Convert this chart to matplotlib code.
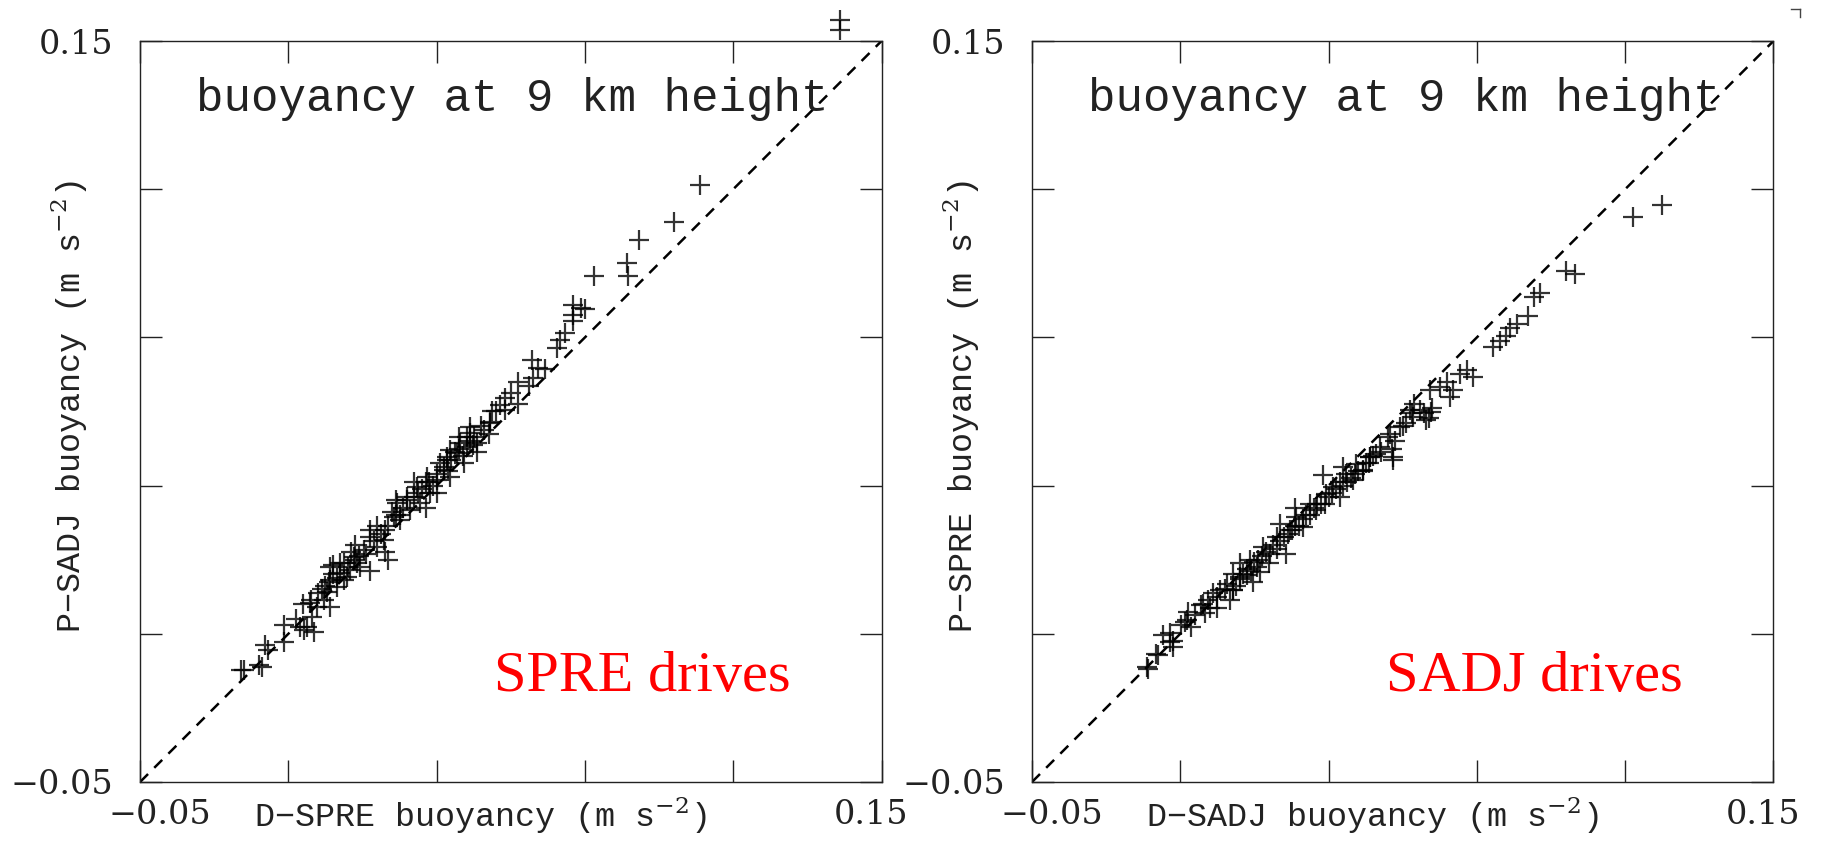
import matplotlib
matplotlib.use("Agg")
import matplotlib.pyplot as plt
import matplotlib.transforms as mtransforms
from matplotlib.lines import Line2D
import numpy as np

plt.rcParams['font.family'] = ['DejaVu Serif']
plt.rcParams['mathtext.fontset'] = 'dejavuserif'

# left panel: D-SPRE (x) vs P-SADJ (y)
spre_x = [-0.0221, -0.0172, -0.0163, -0.0154, -0.0113, -0.0113, -0.0068, -0.0050, -0.0037, -0.0023,
          -0.0041, -0.0005, 0.0013, 0.0004, 0.0031, 0.0049, 0.0013, 0.0040, 0.0067, 0.0013,
          0.0085, -0.0032, -0.0059, -0.0227, -0.0180,
          0.0040, 0.0058, 0.0076, 0.0094, 0.0103, 0.0121, 0.0139, 0.0157, 0.0170, 0.0184,
          0.0193, 0.0202, 0.0220, 0.0229, 0.0247, 0.0256, 0.0274, 0.0283, 0.0301, 0.0319,
          0.0328, 0.0337, 0.0355, 0.0373, 0.0382, 0.0391, 0.0409, 0.0427, 0.0445,
          0.0060, 0.0110, 0.0150, 0.0190, 0.0240, 0.0280, 0.0320, 0.0360, 0.0080, 0.0130,
          0.0170, 0.0210, 0.0260, 0.0300, 0.0340, 0.0400, 0.0010, 0.0030, -0.0010,
          -0.008, -0.006, -0.004, -0.002, 0.000, 0.002, 0.005, 0.007, 0.009, 0.012,
          0.014, 0.016, 0.018, 0.020, 0.022, 0.025, 0.027, 0.029, 0.031, 0.033,
          0.035, 0.037, 0.039, 0.042, 0.044, 0.046, 0.050, 0.052,
          0.008, 0.016, 0.024, 0.030, 0.036, 0.041, 0.012, 0.002, 0.019, 0.027,
          0.045, 0.052, 0.055,
          0.0329, 0.0337, 0.0364, 0.0383, 0.0391, 0.0399, 0.0445, 0.0472, 0.0485, 0.0485,
          0.0561, 0.0558, 0.0574, 0.0593, 0.0625, 0.0634, 0.0647, 0.0669, 0.0688,
          0.0669, 0.0701, 0.0669, 0.0725, 0.0817, 0.0814, 0.0847, 0.0939, 0.1009,
          0.1389, 0.1389]
sadj_y = [-0.0198, -0.0189, -0.0130, -0.0144, -0.0121, -0.0076, -0.0081, -0.0081, -0.0054, -0.0027,
          -0.0018, -0.0009, -0.0027, 0.0014, 0.0027, 0.0045, 0.0045, 0.0063, 0.0072, 0.0081,
          0.0090, -0.0094, -0.0090, -0.0199, -0.0184,
          0.0090, 0.0054, 0.0108, 0.0081, 0.0126, 0.0180, 0.0135, 0.0153, 0.0099, 0.0216,
          0.0252, 0.0207, 0.0270, 0.0234, 0.0297, 0.0252, 0.0324, 0.0279, 0.0315, 0.0342,
          0.0369, 0.0324, 0.0387, 0.0360, 0.0405, 0.0441, 0.0414, 0.0450, 0.0468,
          0.0080, 0.0115, 0.0170, 0.0220, 0.0270, 0.0310, 0.0350, 0.0400, 0.0100, 0.0150,
          0.0190, 0.0240, 0.0290, 0.0330, 0.0370, 0.0430, 0.0040, 0.0050, 0.0020,
          -0.006, -0.002, -0.001, 0.001, 0.003, 0.006, 0.009, 0.012, 0.011, 0.016,
          0.019, 0.018, 0.023, 0.022, 0.026, 0.028, 0.031, 0.030, 0.036, 0.034,
          0.039, 0.038, 0.042, 0.046, 0.044, 0.050, 0.055, 0.052,
          0.014, 0.012, 0.031, 0.028, 0.043, 0.039, 0.007, 0.0085, 0.026, 0.024,
          0.050, 0.058, 0.057,
          0.0377, 0.0396, 0.0415, 0.0431, 0.0458, 0.0410, 0.0472, 0.0518, 0.0504, 0.0536,
          0.0590, 0.0639, 0.0617, 0.0615, 0.0671, 0.0693, 0.0712, 0.0760, 0.0779,
          0.0787, 0.0777, 0.0743, 0.0866, 0.0866, 0.0901, 0.0963, 0.1011, 0.1111,
          0.1557, 0.1530]

# right panel: D-SADJ (x) vs P-SPRE (y)
sadj_x = [-0.0189, -0.0166, -0.0119, -0.0127, -0.0087,
          -0.0186, -0.0159, -0.0146, -0.0119, -0.0128, -0.0097, -0.0083, -0.0070, -0.0043, -0.0025,
          -0.0034, -0.0011, 0.0007, 0.0025, 0.0043, 0.0061, 0.0079, 0.0097, 0.0115, 0.0034,
          0.0043, 0.0061, 0.0043, 0.0088, 0.0106, 0.0124, 0.0142, 0.0160, 0.0169, 0.0186,
          0.0195, 0.0213, 0.0231, 0.0249, 0.0267, 0.0285, 0.0294, 0.0312, 0.0330, 0.0348,
          0.0366, 0.0375, 0.0393, 0.0411, 0.0429, 0.0474,
          0.0080, 0.0120, 0.0170, 0.0210, 0.0250, 0.0300, 0.0340, 0.0380, 0.0100, 0.0150,
          0.0190, 0.0230, 0.0270, 0.0320, 0.0360, 0.0400,
          -0.006, -0.004, -0.002, 0.000, 0.002, 0.005, 0.007, 0.009, 0.011, 0.013,
          0.016, 0.018, 0.020, 0.022, 0.024, 0.026, 0.028, 0.031, 0.033, 0.035,
          0.037, 0.042, 0.044, 0.046, 0.048, 0.050,
          0.006, 0.014, 0.021, 0.029, 0.034, 0.041, 0.047, 0.053, 0.058, 0.062,
          -0.008, 0.000,
          0.0393, 0.0411, 0.0438, 0.0474, 0.0465, 0.0492, 0.0528, 0.0546, 0.0564, 0.0577,
          0.0519, 0.0573, 0.0600, 0.0627, 0.0636, 0.0654, 0.0672, 0.0690, 0.0744, 0.0761,
          0.0779, 0.0509, 0.0524, 0.0556, 0.0571,
          0.0790, 0.0807, 0.0838, 0.0855, 0.0869, 0.0941, 0.0964, 0.1120, 0.1199]
spre_y = [-0.0191, -0.0155, -0.0119, -0.0097, -0.0068,
          -0.0194, -0.0158, -0.0104, -0.0135, -0.0122, -0.0077, -0.0063, -0.0081, -0.0023, -0.0010,
          -0.0045, 0.0009, 0.0018, 0.0035, 0.0018, 0.0049, 0.0058, 0.0040, 0.0067, -0.0010,
          0.0018, 0.0053, 0.0062, 0.0098, 0.0080, 0.0134, 0.0116, 0.0161, 0.0197, 0.0116,
          0.0179, 0.0215, 0.0188, 0.0251, 0.0233, 0.0328, 0.0278, 0.0296, 0.0269, 0.0332,
          0.0314, 0.0359, 0.0341, 0.0377, 0.0386, 0.0377,
          0.0075, 0.0110, 0.0150, 0.0190, 0.0220, 0.0270, 0.0300, 0.0340, 0.0095, 0.0140,
          0.0170, 0.0210, 0.0250, 0.0290, 0.0320, 0.0360,
          -0.005, -0.002, -0.003, 0.000, 0.002, 0.003, 0.006, 0.007, 0.010, 0.012,
          0.013, 0.016, 0.018, 0.019, 0.022, 0.024, 0.025, 0.028, 0.031, 0.031,
          0.033, 0.038, 0.039, 0.043, 0.042, 0.046,
          0.009, 0.009, 0.024, 0.025, 0.035, 0.036, 0.040, 0.052, 0.051, 0.058,
          -0.004, -0.003,
          0.0340, 0.0377, 0.0404, 0.0368, 0.0440, 0.0458, 0.0485, 0.0503, 0.0476, 0.0498,
          0.0503, 0.0557, 0.0566, 0.0539, 0.0557, 0.0602, 0.0611, 0.0593, 0.0673, 0.0691,
          0.0705, 0.0468, 0.0497, 0.0497, 0.0483,
          0.0725, 0.0736, 0.0758, 0.0810, 0.0819, 0.0879, 0.0872, 0.1026, 0.1058]

lims = [-0.05, 0.15]
tick_vals = [-0.05, -0.01, 0.03, 0.07, 0.11, 0.15]
tick_labels = ['\u22120.05', '', '', '', '', '0.15']

panels = [
    (spre_x, sadj_y, 'D\u2212SPRE buoyancy (m s$^{-2}$)', 'P\u2212SADJ buoyancy (m s$^{-2}$)', 'SPRE drives'),
    (sadj_x, spre_y, 'D\u2212SADJ buoyancy (m s$^{-2}$)', 'P\u2212SPRE buoyancy (m s$^{-2}$)', 'SADJ drives'),
]
lefts = [0.0768, 0.5658]
wide = ['Liberation Mono', 'DejaVu Sans Mono']
label_y = -0.045

fig = plt.figure(figsize=(18.24, 8.42), dpi=100)

for (xs, ys, xl, yl, note), left in zip(panels, lefts):
    ax = fig.add_axes([left, 0.0713, 0.4065, 0.880])
    ax.set_xlim(lims)
    ax.set_ylim(lims)
    ax.plot(lims, lims, color='black', lw=1.8, linestyle=(0, (4.5, 3.5)))
    ax.plot(xs, ys, linestyle='none', marker='+', markersize=14, mew=1.6,
            color='black', alpha=0.8, clip_on=False)

    ax.set_xticks(tick_vals)
    ax.set_yticks(tick_vals)
    ax.set_xticklabels([])
    ax.set_yticklabels(tick_labels, fontsize=24, color='#222222')
    ax.tick_params(direction='in', length=16, width=1.0, top=True, right=True,
                   color='#222222')
    ax.tick_params(axis='y', pad=19)
    for s in ax.spines.values():
        s.set_linewidth(1.0)
        s.set_color('#222222')

    # x tick labels, shifted inwards like the original
    base = mtransforms.blended_transform_factory(ax.transData, ax.transAxes)
    ax.text(tick_vals[0], label_y, tick_labels[0], ha='left', va='center', fontsize=24,
            color='#222222', transform=mtransforms.offset_copy(base, fig, x=-32, units='dots'))
    ax.text(tick_vals[-1], label_y, tick_labels[-1], ha='center', va='center', fontsize=24,
            color='#222222', transform=mtransforms.offset_copy(base, fig, x=-10, units='dots'))

    ax.text(0.459, label_y, xl, transform=ax.transAxes, ha='center', va='center',
            fontsize=24, color='#222222', family=wide)
    ax.text(-0.095, 0.506, yl, transform=ax.transAxes, ha='center', va='center',
            rotation=90, fontsize=24, color='#222222', family=wide)
    ax.text(0.0504, 0.1343, 'buoyancy at 9 km height', ha='center', va='center',
            fontsize=33, color='#222222', family=wide)
    ax.text(0.0456, -0.0217, note, ha='left', va='center', fontsize=42,
            color='red', family=['Liberation Serif'])

# small corner mark at top right
fig.add_artist(Line2D([1791 / 1824, 1800 / 1824], [1 - 9 / 842, 1 - 9 / 842], color='#444444', lw=1))
fig.add_artist(Line2D([1800 / 1824, 1800 / 1824], [1 - 9 / 842, 1 - 17 / 842], color='#444444', lw=1))

fig.savefig('out.png', dpi=100)
